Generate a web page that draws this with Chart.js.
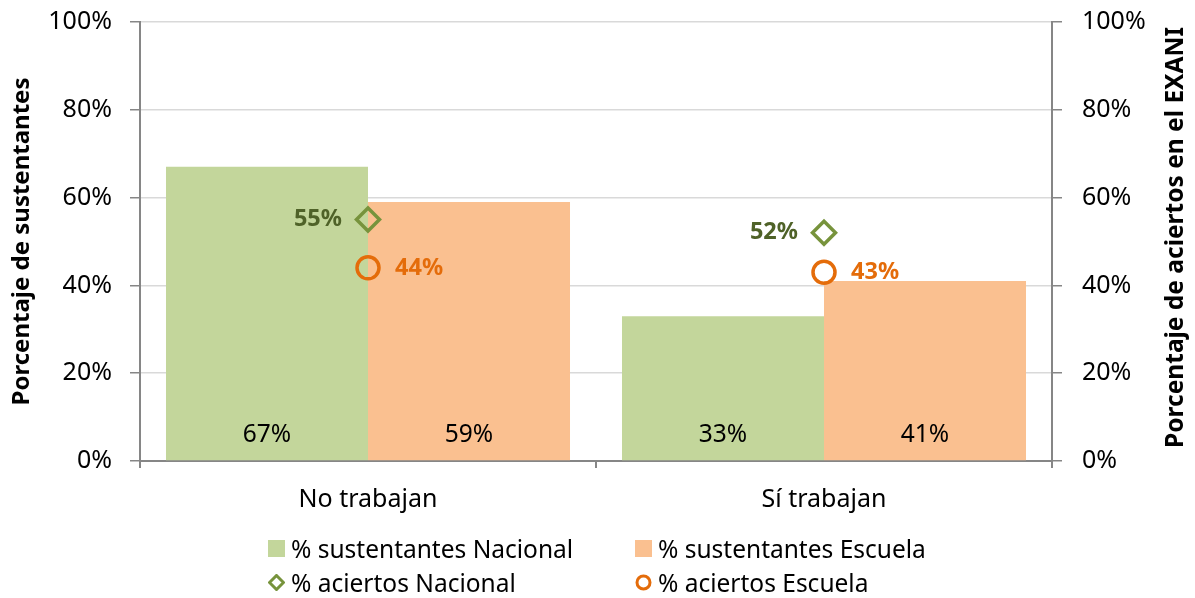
<!DOCTYPE html>
<html>
<head>
<meta charset="utf-8">
<script src="https://cdn.jsdelivr.net/npm/chart.js@4"></script>
<style>
  body { margin: 0; background: #fff; }
  #wrap { position: relative; width: 1195px; height: 598px; font-family: "Noto Sans", sans-serif; }
  .item { position: absolute; display: flex; align-items: center; font-size: 24.5px; color: #000; white-space: nowrap; }
  .item svg { margin-right: 6px; }
</style>
</head>
<body>
<div id="wrap">
  <canvas id="graph" width="1195" height="598"></canvas>
  <div id="legend"></div>
</div>
<script>
const categories = ["No trabajan", "Sí trabajan"];
const sustentantesNacional = [67, 33];
const sustentantesEscuela = [59, 41];
const aciertosNacional = [55, 52];
const aciertosEscuela = [44, 43];
const tickValues = [0, 20, 40, 60, 80, 100];

const seriesNames = ["% sustentantes Nacional", "% sustentantes Escuela", "% aciertos Nacional", "% aciertos Escuela"];

const green = "#c3d69b";
const orange = "#fac090";
const greenDark = "#77933c";
const orangeDark = "#e46c0a";
const fontFamily = "'Noto Sans', sans-serif";

// labels drawn from element positions
const valueLabels =
{
   id: "valueLabels",
   afterDatasetsDraw(chart)
   {
      const ctx = chart.ctx;
      const y0 = chart.scales.y.getPixelForValue(0);
      ctx.save();
      ctx.textBaseline = "middle";
      chart.data.datasets.forEach((ds, i) =>
      {
         const meta = chart.getDatasetMeta(i);
         meta.data.forEach((el, j) =>
         {
            const text = ds.data[j] + "%";
            if (ds.type === "bar")
            {
               ctx.font = "24.5px " + fontFamily;
               ctx.fillStyle = "#000";
               ctx.textAlign = "center";
               ctx.fillText(text, el.x, y0 - 26);
            }
            else if (ds.label === seriesNames[2])
            {
               ctx.font = "bold 23.5px " + fontFamily;
               ctx.fillStyle = "#4f6228";
               ctx.textAlign = "right";
               ctx.fillText(text, el.x - 26, el.y);
            }
            else
            {
               ctx.font = "bold 23.5px " + fontFamily;
               ctx.fillStyle = orangeDark;
               ctx.textAlign = "left";
               ctx.fillText(text, el.x + 27, el.y);
            }
         });
      });
      ctx.restore();
   },
   afterDraw(chart)
   {
      const ctx = chart.ctx;
      const area = chart.chartArea;
      ctx.save();
      ctx.translate(1176, (area.top + area.bottom) / 2 - 4);
      ctx.rotate(-Math.PI / 2);
      ctx.font = "bold 24.5px " + fontFamily;
      ctx.fillStyle = "#000";
      ctx.textAlign = "center";
      ctx.textBaseline = "middle";
      ctx.fillText("Porcentaje de aciertos en el EXANI", 0, 0);
      ctx.restore();
   }
};

const yTicks =
{
   stepSize: 20,
   color: "#000",
   font: { size: 25, family: fontFamily },
   callback: v => v + "%"
};

function fitY(width)
{
   return s =>
   {
      s.width = width;
      s.paddingTop = 0;
      s.paddingBottom = 0;
   };
}

new Chart(document.getElementById("graph"),
{
   data:
   {
      labels: categories,
      datasets:
      [
         {
            type: "line",
            label: seriesNames[2],
            data: aciertosNacional,
            yAxisID: "y1",
            showLine: false,
            pointStyle: "rectRot",
            pointRadius: 11.5,
            pointBorderWidth: 3.5,
            pointBorderColor: greenDark,
            pointBackgroundColor: "rgba(0,0,0,0)",
            order: 0
         },
         {
            type: "line",
            label: seriesNames[3],
            data: aciertosEscuela,
            yAxisID: "y1",
            showLine: false,
            pointStyle: "circle",
            pointRadius: 11,
            pointBorderWidth: 3.5,
            pointBorderColor: orangeDark,
            pointBackgroundColor: "rgba(0,0,0,0)",
            order: 0
         },
         {
            type: "bar",
            label: seriesNames[0],
            data: sustentantesNacional,
            backgroundColor: green,
            yAxisID: "y",
            barPercentage: 1,
            categoryPercentage: 0.886,
            order: 1
         },
         {
            type: "bar",
            label: seriesNames[1],
            data: sustentantesEscuela,
            backgroundColor: orange,
            yAxisID: "y",
            barPercentage: 1,
            categoryPercentage: 0.886,
            order: 1
         }
      ]
   },
   options:
   {
      responsive: false,
      animation: false,
      layout: { padding: { top: 22 } },
      scales:
      {
         x:
         {
            afterFit: s => { s.height = 137; },
            grid: { offset: true, drawOnChartArea: false, tickLength: 7, tickColor: "#868686", lineWidth: 2 },
            border: { color: "#868686", width: 2 },
            ticks: { color: "#000", padding: 17, font: { size: 25, family: fontFamily } }
         },
         y:
         {
            position: "left",
            min: 0,
            max: 100,
            afterFit: fitY(140),
            afterBuildTicks: s => { s.ticks = tickValues.map(v => ({ value: v })); },
            grid: { color: "#d9d9d9", tickColor: "#868686", tickLength: 10, lineWidth: 1.5 },
            border: { color: "#868686", width: 2 },
            ticks: Object.assign({ padding: 18 }, yTicks),
            title:
            {
               display: true,
               text: "Porcentaje de sustentantes",
               color: "#000",
               padding: { top: 8, bottom: 0 },
               font: { size: 24, weight: "bold", family: fontFamily }
            }
         },
         y1:
         {
            position: "right",
            min: 0,
            max: 100,
            afterFit: fitY(143),
            afterBuildTicks: s => { s.ticks = tickValues.map(v => ({ value: v })); },
            grid: { drawOnChartArea: false, tickColor: "#868686", tickLength: 10, lineWidth: 1.5 },
            border: { color: "#868686", width: 2 },
            ticks: Object.assign({ padding: 20 }, yTicks)
         }
      },
      plugins:
      {
         legend: { display: false },
         tooltip: { enabled: false }
      }
   },
   plugins: [valueLabels]
});

// legend laid out as a 2x2 grid, as in the original
const markers =
[
   '<svg width="17" height="17"><rect x="0" y="0" width="17" height="17" fill="' + green + '"/></svg>',
   '<svg width="17" height="17"><rect x="0" y="0" width="17" height="17" fill="' + orange + '"/></svg>',
   '<svg width="17" height="17"><polygon points="8.5,1.5 15.5,8.5 8.5,15.5 1.5,8.5" fill="none" stroke="' + greenDark + '" stroke-width="3"/></svg>',
   '<svg width="17" height="17"><circle cx="8.5" cy="8.5" r="6.5" fill="none" stroke="' + orangeDark + '" stroke-width="3"/></svg>'
];
const legendPos = [[268, 548], [635, 548], [268, 582], [635, 582]];
const legendEl = document.getElementById("legend");
seriesNames.forEach((name, i) =>
{
   const div = document.createElement("div");
   div.className = "item";
   div.style.left = legendPos[i][0] + "px";
   div.style.top = (legendPos[i][1] - 17) + "px";
   div.style.height = "34px";
   div.innerHTML = markers[i] + "<span>" + name + "</span>";
   legendEl.appendChild(div);
});
</script>
</body>
</html>
